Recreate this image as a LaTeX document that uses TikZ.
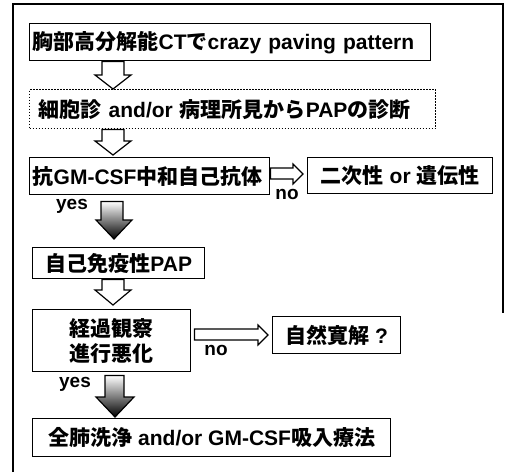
\documentclass[tikz,border=0pt]{standalone}
\usepackage{fontspec}
\setmainfont{Liberation Sans}
\newfontfamily\cjk{Noto Sans CJK JP}
\newcommand{\J}[1]{{\cjk\bfseries #1}}
\usetikzlibrary{calc}
\tikzset{
  box/.style={draw=black, line width=1.4pt, anchor=north west, inner sep=0pt, align=center, font=\fontsize{21}{25}\selectfont\bfseries},
  lbox/.style={box, align=left, inner ysep=0pt},
  dotbox/.style={lbox, dash pattern=on 1.6pt off 1.4pt},
  hollow/.style={draw=black, line width=1.2pt, fill=white},
  shaded/.style={draw=black, line width=1.2pt, top color=white, middle color=white!80!black, bottom color=black},
  lab/.style={font=\fontsize{19}{22}\selectfont\bfseries, inner sep=0pt},
  frame/.style={draw=black, line width=1.3pt}
}
\begin{document}
\begin{tikzpicture}[x=1pt, y=-1pt]
\useasboundingbox (0,0) rectangle (508,472);
\draw[frame] (13,472) -- (13,4) -- (503,4) -- (503,313);

\node[lbox, inner xsep=3pt, text width=395pt, minimum height=37pt] (b1) at (29,23)
  {\mbox{\J{胸部高分解能}CT\J{で}crazy paving pattern}};
\node[dotbox, inner xsep=9pt, text width=388pt, minimum height=39pt] (b2) at (29,89)
  {\mbox{\J{細胞診} and/or \J{病理所見から}PAP\J{の診断}}};
\node[lbox, inner xsep=3pt, text width=234pt, minimum height=37pt] (b3) at (29,157)
  {\mbox{\J{抗}GM-CSF\J{中和自己抗体}}};
\node[box, minimum width=185pt, minimum height=36pt] (b4) at (307,157)
  {\J{二次性} or \J{遺伝性}};
\node[box, minimum width=172pt, minimum height=31pt] (b5) at (32,247)
  {\J{自己免疫性}PAP};
\node[box, minimum width=158pt, minimum height=62pt] (b6) at (32,309)
  {\J{経過観察}\\\J{進行悪化}};
\node[box, minimum width=128pt, minimum height=37pt] (b7) at (272,316)
  {\J{自然寛解} ?};
\node[box, minimum width=358pt, minimum height=38pt] (b8) at (32,418)
  {\J{全肺洗浄} and/or GM-CSF\J{吸入療法}};

% hollow down arrows
\path[hollow] let \p1=(b1.south), \p2=(b2.north) in
  (102,\y1) -- (124,\y1) -- (124,\y2+14pt) -- (131,\y2+14pt) -- (113,\y2) -- (95,\y2+14pt) -- (102,\y2+14pt) -- cycle;
\path[hollow] let \p1=(b2.south), \p2=(b3.north) in
  (102,\y1) -- (124,\y1) -- (124,\y2+16pt) -- (131,\y2+16pt) -- (113,\y2+2pt) -- (95,\y2+16pt) -- (102,\y2+16pt) -- cycle;
\path[hollow] let \p1=(b5.south), \p2=(b6.north) in
  (102,\y1) -- (124,\y1) -- (124,\y2+19pt) -- (131,\y2+19pt) -- (113,\y2+4pt) -- (95,\y2+19pt) -- (102,\y2+19pt) -- cycle;

% shaded down arrows
\path[shaded] let \p1=(b3.south), \p2=(b5.north) in
  (101,\y1-6pt) -- (123,\y1-6pt) -- (123,\y2+27pt) -- (132,\y2+27pt) -- (114,\y2+8pt) -- (96,\y2+27pt) -- (101,\y2+27pt) -- cycle;
\path[shaded] let \p1=(b6.south), \p2=(b8.north) in
  (105,\y1-3pt) -- (124,\y1-3pt) -- (124,\y2+21pt) -- (134,\y2+21pt) -- (115,\y2+1pt) -- (96,\y2+21pt) -- (105,\y2+21pt) -- cycle;

% right arrows
\path[hollow] let \p1=(b3.east), \p2=(b4.west) in
  (\x1,168) -- (\x2-14pt,168) -- (\x2-14pt,164) -- (\x2-4pt,174) -- (\x2-14pt,184) -- (\x2-14pt,179) -- (\x1,179) -- cycle;
\path[hollow] let \p1=(b6.east), \p2=(b7.west) in
  (\x1+3pt,329) -- (\x2-14pt,329) -- (\x2-14pt,325) -- (\x2-4pt,335) -- (\x2-14pt,345) -- (\x2-14pt,340) -- (\x1+3pt,340) -- cycle;

\node[lab] (yes1) at (72,206) {yes};
\node[lab] (no1) at (287,194) {no};
\node[lab] (no2) at (216,350) {no};
\node[lab] (yes2) at (75,384) {yes};
\end{tikzpicture}
\end{document}
